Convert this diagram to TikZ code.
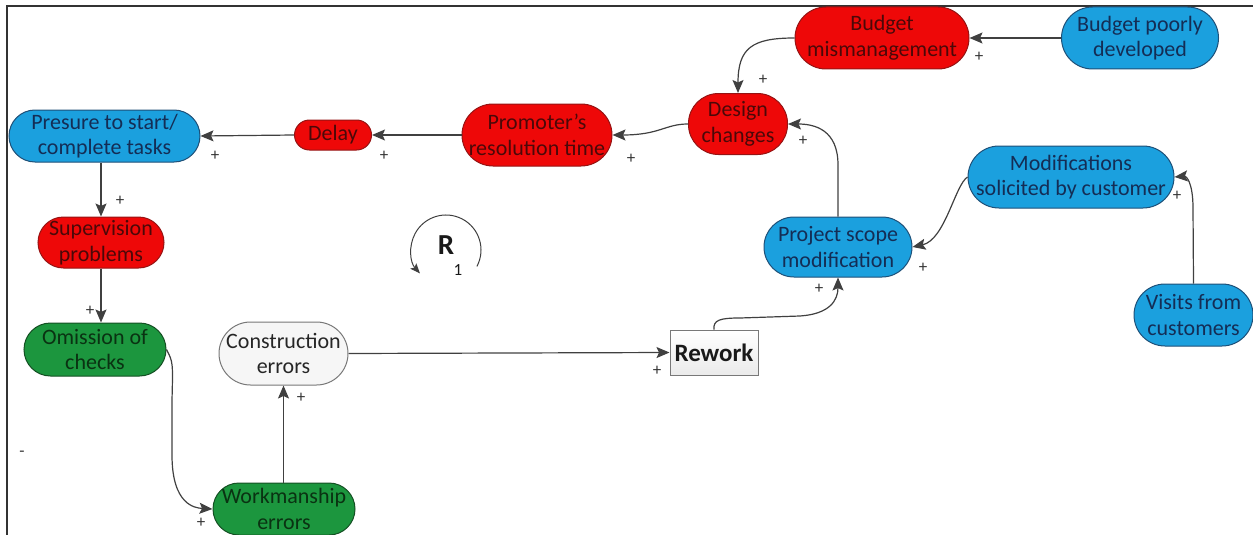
\documentclass[tikz,border=0pt]{standalone}
\usepackage{fontspec}
\setmainfont{Carlito}
\usetikzlibrary{arrows.meta}

\definecolor{bfill}{RGB}{27,160,222}
\definecolor{bline}{RGB}{30,80,120}
\definecolor{btext}{RGB}{20,45,85}
\definecolor{rfill}{RGB}{238,8,8}
\definecolor{rline}{RGB}{150,20,20}
\definecolor{rtext}{RGB}{75,8,8}
\definecolor{gfill}{RGB}{28,150,62}
\definecolor{gline}{RGB}{20,80,35}
\definecolor{gtext}{RGB}{10,50,18}
\definecolor{wfill}{RGB}{246,246,246}
\definecolor{wline}{RGB}{120,120,120}
\definecolor{arrgray}{RGB}{64,64,64}

\tikzset{
  box/.style={draw, line width=1pt, align=center, inner sep=0pt,
    font=\fontsize{22}{25.5}\selectfont},
  bluebox/.style={box, fill=bfill, draw=bline, text=btext},
  redbox/.style={box, fill=rfill, draw=rline, text=rtext},
  greenbox/.style={box, fill=gfill, draw=gline, text=gtext},
  whitebox/.style={box, fill=wfill, draw=wline, text=black!85},
  arr/.style={draw=arrgray, line width=1.2pt,
    -{Stealth[length=13pt,width=11pt,inset=2.5pt]}},
  sign/.style={font=\fontsize{17}{17}\selectfont, text=black!80, inner sep=0pt}
}

\begin{document}
\begin{tikzpicture}[x=1pt,y=-1pt]
\useasboundingbox (0,0) rectangle (1253,535);

% frame along the top and left sides
\draw[line width=1.4pt, black!80] (7,535) -- (7,6) -- (1253,6);

% variables
\node[bluebox, minimum width=191, minimum height=52, rounded corners=26]
  (pres) at (104.5,136) {Presure to start/\\complete tasks};
\node[redbox, minimum width=77, minimum height=30, rounded corners=15]
  (delay) at (333,135) {Delay};
\node[redbox, minimum width=150, minimum height=62, rounded corners=31]
  (prom) at (537,135) {Promoter's\\resolution time};
\node[redbox, minimum width=99, minimum height=61, rounded corners=30]
  (design) at (738,124) {Design\\changes};
\node[redbox, minimum width=174, minimum height=62, rounded corners=31]
  (bm) at (882,38) {Budget\\mismanagement};
\node[bluebox, minimum width=157, minimum height=62, rounded corners=31]
  (bpd) at (1140,38) {Budget poorly\\developed};
\node[bluebox, minimum width=206, minimum height=62, rounded corners=31]
  (mod) at (1071,177) {Modifications\\solicited by customer};
\node[bluebox, minimum width=148, minimum height=60, rounded corners=30]
  (psm) at (838,247) {Project scope\\modification};
\node[bluebox, minimum width=119, minimum height=62, rounded corners=31]
  (vis) at (1193.5,315) {Visits from\\customers};
\node[redbox, minimum width=126, minimum height=51, rounded corners=25.5]
  (sup) at (101,242.5) {Supervision\\problems};
\node[greenbox, minimum width=142, minimum height=53, rounded corners=26.5]
  (om) at (95,349.5) {Omission of\\checks};
\node[whitebox, minimum width=129, minimum height=63, rounded corners=31.5]
  (ce) at (283.5,353.5) {Construction\\errors};
\node[draw=wline, line width=1pt, top color=white, bottom color=black!8,
  minimum width=88, minimum height=45, inner sep=0pt,
  font=\fontsize{25}{28}\selectfont\bfseries, text=black!90]
  (rw) at (714,352.5) {Rework};
\node[greenbox, minimum width=142, minimum height=52, rounded corners=26]
  (wm) at (284,509) {Workmanship\\errors};

% loop marker
\draw[draw=arrgray, line width=1pt, -{Stealth[length=10pt,width=8pt,inset=2pt]}]
  (446,250) ++(28:35) arc[start angle=28, end angle=-222, radius=35];
\node[font=\fontsize{29}{29}\selectfont\bfseries, text=black!90, inner sep=0pt]
  (rl) at (446,245) {R};
\node[font=\fontsize{17}{17}\selectfont, text=black!90, inner sep=0pt]
  (rn) at (458,270) {1};

% causal links
\draw[arr] (delay.west) -- (pres.east);
\draw[arr] (prom.west) -- (delay.east);
\draw[arr] (design.west) .. controls (665,124) and (660,135) .. (prom.east);
\draw[arr] (bm.west) .. controls (752,38) and (738,48) .. (design.north);
\draw[arr] (bpd.west) -- (bm.east);
\draw[arr] (psm.north) -- (838,165) .. controls (838,130) and (815,124) .. (design.east);
\draw[arr] (mod.west) .. controls (955,185) and (945,240) .. (psm.east);
\draw[arr] (vis.north) -- (1193,208) .. controls (1193,182) and (1186,176) .. (mod.east);
\draw[arr] (pres.south -| sup.north) -- (sup.north);
\draw[arr] (sup.south) -- (sup.south |- om.north);
\draw[arr] (om.east) .. controls (173,362) .. (172,400) -- (172,455)
  .. controls (172,505) and (195,508) .. (wm.west);
\draw[arr] (wm.north -| ce.south) -- (ce.south);
\draw[arr] (ce.east) -- (rw.west);
\draw[arr] (rw.north) .. controls (713,320) and (720,318) .. (740,318) -- (800,316)
  .. controls (830,314) and (838,300) .. (psm.south);

% polarity signs
\node[sign] (p1) at (215,156) {+};
\node[sign] (p2) at (384,156) {+};
\node[sign] (p3) at (631,159) {+};
\node[sign] (p4) at (763,80) {+};
\node[sign] (p5) at (979,57) {+};
\node[sign] (p6) at (803,141) {+};
\node[sign] (p7) at (923,268) {+};
\node[sign] (p8) at (1177,196) {+};
\node[sign] (p9) at (120,201) {+};
\node[sign] (p10) at (90,311) {+};
\node[sign] (p11) at (201,523) {+};
\node[sign] (p12) at (301,398) {+};
\node[sign] (p13) at (657,371) {+};
\node[sign] (p14) at (819,289) {+};
\node[sign] (m1) at (22,454) {-};
\end{tikzpicture}
\end{document}
